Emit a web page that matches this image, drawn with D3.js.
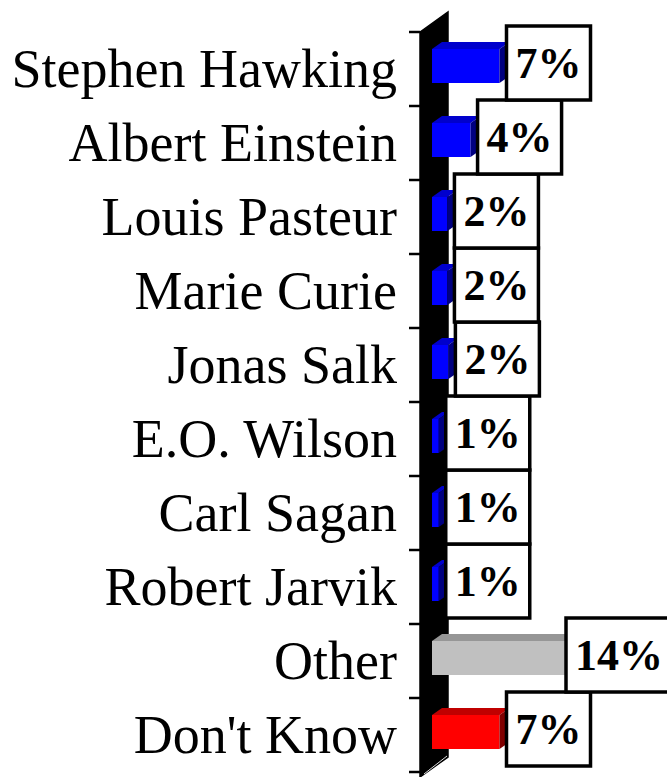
<!DOCTYPE html>
<html>
<head>
<meta charset="utf-8">
<script src="https://cdn.jsdelivr.net/npm/d3@7"></script>
<style>
  html, body { margin: 0; padding: 0; background: #fff; }
  svg { display: block; }
</style>
</head>
<body>
<svg id="chart"></svg>
<script>
const names = ["Stephen Hawking", "Albert Einstein", "Louis Pasteur", "Marie Curie", "Jonas Salk",
               "E.O. Wilson", "Carl Sagan", "Robert Jarvik", "Other", "Don't Know"];
const values = [7.0, 4.0, 1.6, 1.6, 1.7, 0.7, 0.7, 0.7, 14.0, 7.0];
const labels = ["7%", "4%", "2%", "2%", "2%", "1%", "1%", "1%", "14%", "7%"];
const kinds = ["person", "person", "person", "person", "person", "person", "person", "person", "other", "dontknow"];

const W = 667, H = 777;
const serif = "'Times New Roman', 'Liberation Serif', serif";

// face colours: front, top, side
const colors = {
    person:   ["#0000ff", "#0000cc", "#000080"],
    other:    ["#c0c0c0", "#969696", "#808080"],
    dontknow: ["#ff0000", "#c00000", "#800000"]
};

const depth = {dx: 28, dy: -20};   // wall depth
const barDepth = {dx: 10, dy: -7};
const wallX = 420;
const x0 = 432;                    // zero of the bars' front face

const svg = d3.select("#chart").attr("width", W).attr("height", H);

const y = d3.scaleBand()
    .domain(names)
    .range([32, 772])
    .padding(0);

const x = d3.scaleLinear()
    .domain([0, 14])
    .range([0, 135]);

// side wall (black)
const wallTop = y.range()[0], wallBottom = y.range()[1] + 5;
svg.append("path")
    .attr("d", `M${wallX},${wallTop} L${wallX + depth.dx},${wallTop + depth.dy} L${wallX + depth.dx},${wallBottom + depth.dy} L${wallX},${wallBottom} Z`)
    .attr("fill", "#000")
    .attr("stroke", "#000")
    .attr("stroke-width", 1.5);

// floor edge
svg.append("line")
    .attr("x1", wallX + 4).attr("y1", wallBottom - 3)
    .attr("x2", wallX + depth.dx - 1).attr("y2", wallBottom + depth.dy - 1)
    .attr("stroke", "#ddd").attr("stroke-width", 1);

// axis ticks
const ticks = d3.range(names.length + 1).map(i => y.range()[0] + i * y.bandwidth());
svg.append("g")
    .selectAll("line")
    .data(ticks)
    .join("line")
    .attr("x1", wallX - 11).attr("x2", wallX)
    .attr("y1", d => d).attr("y2", d => d)
    .attr("stroke", "#000").attr("stroke-width", 2.5);

// category labels
svg.append("g")
    .attr("font-family", serif)
    .attr("font-size", 54)
    .attr("text-anchor", "end")
    .selectAll("text")
    .data(names)
    .join("text")
    .attr("x", 397)
    .attr("y", d => y(d) + y.bandwidth() / 2 + 18)
    .text(d => d);

// bars
const bars = svg.append("g")
    .selectAll("g")
    .data(names.map((n, i) => ({name: n, value: values[i], label: labels[i], kind: kinds[i]})))
    .join("g");

const faceTop = d => y(d.name) + y.bandwidth() / 2 - 20;
const faceH = 34;

bars.append("rect")
    .attr("x", x0)
    .attr("y", faceTop)
    .attr("width", d => x(d.value))
    .attr("height", faceH)
    .attr("fill", d => colors[d.kind][0]);

bars.append("path")
    .attr("d", d => {
        const x1 = x0 + x(d.value), t = faceTop(d);
        return `M${x0},${t} L${x0 + barDepth.dx},${t + barDepth.dy} L${x1 + barDepth.dx},${t + barDepth.dy} L${x1},${t} Z`;
    })
    .attr("fill", d => colors[d.kind][1]);

bars.append("path")
    .attr("d", d => {
        const x1 = x0 + x(d.value), t = faceTop(d);
        return `M${x1},${t} L${x1 + barDepth.dx},${t + barDepth.dy} L${x1 + barDepth.dx},${t + faceH + barDepth.dy} L${x1},${t + faceH} Z`;
    })
    .attr("fill", d => colors[d.kind][2]);

// value labels in boxes, drawn bottom-up so upper ones sit on top
const boxes = svg.append("g")
    .selectAll("g")
    .data(bars.data().slice().reverse())
    .join("g");

boxes.append("rect")
    .attr("fill", "#fff")
    .attr("stroke", "#000")
    .attr("stroke-width", 3.5);

const texts = boxes.append("text")
    .attr("font-family", serif)
    .attr("font-size", 44)
    .attr("font-weight", "bold")
    .attr("text-anchor", "middle")
    .attr("y", 15)
    .text(d => d.label);

const pad = 9;
texts.each(function(d) {
    const tw = this.getComputedTextLength();
    const w = tw + 2 * pad;
    // keep the text inside the picture; the box may run off the right edge
    const bx = Math.min(x0 + x(d.value) + 7, W - 4 - pad - tw);
    d3.select(this.parentNode)
        .attr("transform", `translate(${bx},${y(d.name) + y.bandwidth() / 2 - 6})`);
    d3.select(this).attr("x", w / 2);
    d3.select(this.parentNode).select("rect")
        .attr("x", 0).attr("y", -37)
        .attr("width", w).attr("height", 74);
});
</script>
</body>
</html>
